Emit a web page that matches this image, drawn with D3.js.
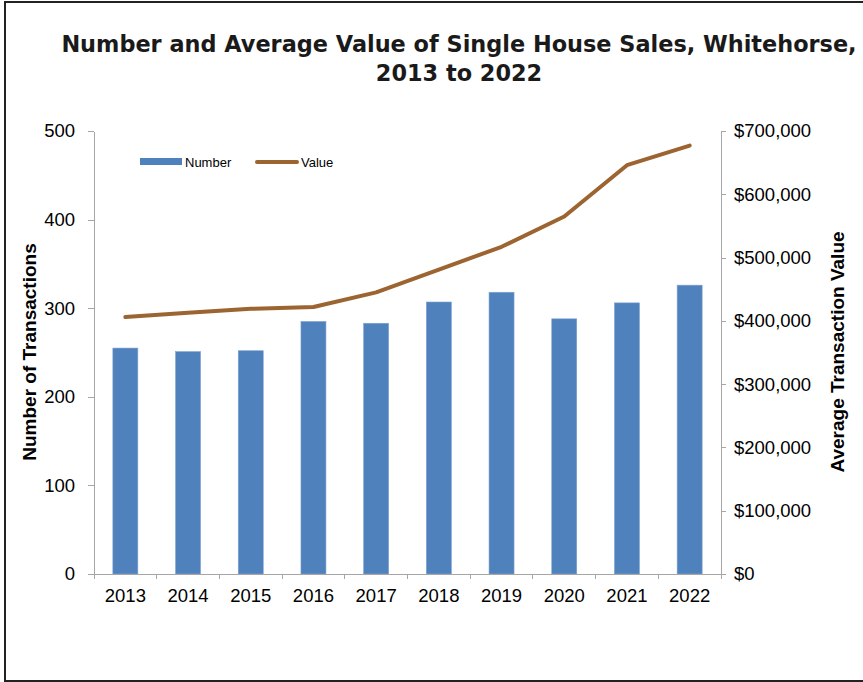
<!DOCTYPE html>
<meta charset="utf-8">
<style>
 body { margin: 0; background: #fff; }
 .axis path, .axis line { fill: none; stroke: #a6a6a6; shape-rendering: crispEdges; }
 .axis text { font: 18.5px "Liberation Sans", Arial, sans-serif; fill: #000; }
 .axis-label { font: bold 19px "Liberation Sans", Arial, sans-serif; }
 .title { font: bold 22.4px "DejaVu Sans", sans-serif; fill: #1a1a1a; }
 .legend text { font: 13px "Liberation Sans", Arial, sans-serif; }
</style>
<body>
<svg width="863" height="682"></svg>
<script src="https://d3js.org/d3.v7.min.js"></script>
<script>

 var years = ["2013", "2014", "2015", "2016", "2017", "2018", "2019", "2020", "2021", "2022"];
 var numbers = [255, 251, 252, 285, 283, 307, 318, 288, 306, 326];
 var values = [406000, 413000, 419000, 422000, 445000, 481000, 517000, 565000, 646000, 677000];
 var leftTicks = [0, 100, 200, 300, 400, 500];
 var rightTicks = [0, 100000, 200000, 300000, 400000, 500000, 600000, 700000];

 var svg = d3.select("svg"),
     margin = {top: 131, right: 142, bottom: 108, left: 94},
     width = 863 - margin.left - margin.right,
     height = 682 - margin.top - margin.bottom;

 // outer frame
 svg.append("rect")
    .attr("x", 5).attr("y", 2)
    .attr("width", 870).attr("height", 679)
    .style("fill", "none")
    .style("stroke", "#222")
    .style("stroke-width", 2);

 svg.append("text")
    .attr("class", "title")
    .attr("text-anchor", "middle")
    .attr("x", 459).attr("y", 52)
    .text("Number and Average Value of Single House Sales, Whitehorse,");
 svg.append("text")
    .attr("class", "title")
    .attr("text-anchor", "middle")
    .attr("x", 459).attr("y", 81)
    .text("2013 to 2022");

 var g = svg.append("g")
    .attr("transform", "translate(" + margin.left + "," + margin.top + ")");

 var xb = d3.scaleBand().domain(years).range([0, width]);
 var y = d3.scaleLinear().domain([0, 500]).range([height, 0]);
 var y2 = d3.scaleLinear().domain([0, 700000]).range([height, 0]);

 // bars
 g.selectAll(".bar")
  .data(years)
  .enter().append("rect")
  .attr("class", "bar")
  .attr("x", function(d) { return xb(d) + (xb.bandwidth() - 25) / 2; })
  .attr("width", 25)
  .attr("y", function(d, i) { return y(numbers[i]); })
  .attr("height", function(d, i) { return height - y(numbers[i]); })
  .style("fill", "#4f81bd")
  .style("stroke", "#7fa3d0")
  .style("stroke-width", 0.6);

 // line
 var line = d3.line()
    .x(function(d, i) { return xb(years[i]) + xb.bandwidth() / 2; })
    .y(function(d) { return y2(d); });
 g.append("path")
  .datum(values)
  .attr("d", line)
  .style("fill", "none")
  .style("stroke", "#9c6430")
  .style("stroke-width", 4)
  .style("stroke-linejoin", "round")
  .style("stroke-linecap", "round");

 // axes
 var xAxis = g.append("g")
    .attr("class", "axis")
    .attr("transform", "translate(0," + height + ")")
    .call(d3.axisBottom(xb).tickSize(0).tickPadding(15));
 xAxis.selectAll(".tick text").attr("dy", "0.71em");
 // boundary ticks between categories
 xAxis.selectAll(".bound")
    .data(d3.range(years.length + 1))
    .enter().append("line")
    .attr("class", "bound")
    .attr("x1", function(i) { return i * xb.step(); })
    .attr("x2", function(i) { return i * xb.step(); })
    .attr("y1", 0).attr("y2", 5);

 g.append("g")
  .attr("class", "axis")
  .call(d3.axisLeft(y).tickValues(leftTicks).tickSize(6).tickSizeOuter(0).tickPadding(13));

 g.append("g")
  .attr("class", "axis")
  .attr("transform", "translate(" + width + ",0)")
  .call(d3.axisRight(y2).tickValues(rightTicks).tickSize(5).tickSizeOuter(0).tickPadding(8)
        .tickFormat(function(d) { return "$" + d3.format(",")(d); }));

 svg.append("text")
    .attr("class", "axis-label")
    .attr("text-anchor", "middle")
    .attr("transform", "translate(36,352) rotate(-90)")
    .text("Number of Transactions");

 svg.append("text")
    .attr("class", "axis-label")
    .attr("text-anchor", "middle")
    .attr("transform", "translate(844,352) rotate(-90)")
    .text("Average Transaction Value");

 // legend
 var legend = svg.append("g").attr("class", "legend");
 legend.append("rect")
    .attr("x", 140).attr("y", 158).attr("width", 42).attr("height", 7)
    .style("fill", "#4f81bd");
 legend.append("text")
    .attr("x", 185).attr("y", 166.5)
    .text("Number");
 legend.append("line")
    .attr("x1", 257).attr("x2", 297).attr("y1", 162).attr("y2", 162)
    .style("stroke", "#9c6430")
    .style("stroke-width", 4)
    .style("stroke-linecap", "round");
 legend.append("text")
    .attr("x", 301).attr("y", 166.5)
    .text("Value");

</script>
</body>
